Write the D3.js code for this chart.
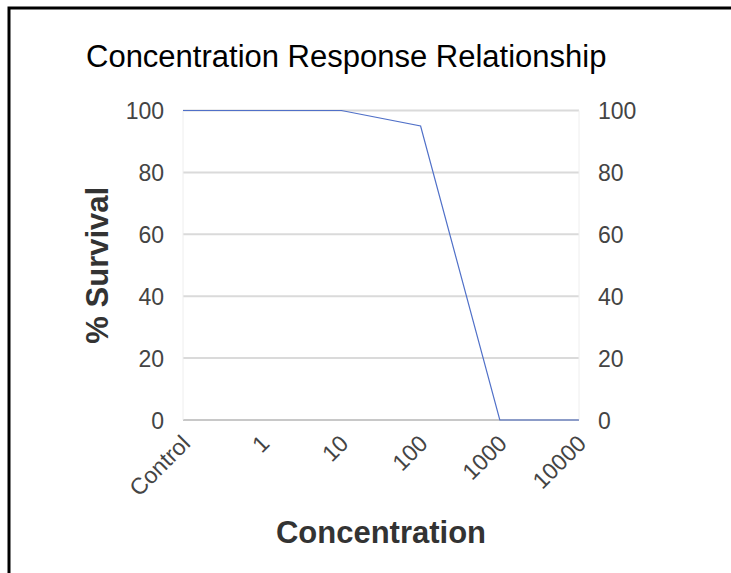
<!DOCTYPE html>
<html>
<head>
<meta charset="utf-8">
<script src="https://cdn.jsdelivr.net/npm/d3@7"></script>
<style>
  body { margin: 0; background: #fff; }
  svg { display: block; font-family: "Liberation Sans", Arial, sans-serif; }
  .axis path, .axis line { display: none; }
  .axis text { fill: #444; font-size: 23px; }
</style>
</head>
<body>
<svg id="chart" width="731" height="573"></svg>
<script>
const categories = ["Control", "1", "10", "100", "1000", "10000"];
const survival = [100, 100, 100, 95, 0, 0];
const yTicks = [0, 20, 40, 60, 80, 100];

const margin = {top: 110.5, right: 152, bottom: 153, left: 183};
const width = 731 - margin.left - margin.right;
const height = 573 - margin.top - margin.bottom;

const svg = d3.select("#chart");

// outer frame (cut off at right and bottom)
svg.append("path")
    .attr("d", "M9,573V8H731")
    .attr("fill", "none")
    .attr("stroke", "#000")
    .attr("stroke-width", 3);

svg.append("text")
    .attr("x", 86)
    .attr("y", 67)
    .attr("font-size", 31)
    .attr("fill", "#000")
    .text("Concentration Response Relationship");

const x = d3.scalePoint()
    .domain(categories)
    .range([0, width]);

const y = d3.scaleLinear()
    .domain([0, 100])
    .range([height, 0]);

const chart = svg.append("g")
    .attr("transform", `translate(${ margin.left },${ margin.top })`);

// gridlines
chart.append("g")
  .selectAll("line")
  .data(yTicks)
  .enter().append("line")
    .attr("x1", 0)
    .attr("x2", width)
    .attr("y1", (d) => y(d))
    .attr("y2", (d) => y(d))
    .attr("stroke", (d) => d === 0 ? "#c8c8c8" : "#dadada")
    .attr("stroke-width", 2);

chart.append("g")
  .selectAll("line")
  .data([0, width])
  .enter().append("line")
    .attr("x1", (d) => d)
    .attr("x2", (d) => d)
    .attr("y1", 0)
    .attr("y2", height)
    .attr("stroke", "#eeeeee")
    .attr("stroke-width", 1);

chart.append("g")
    .attr("class", "axis")
    .call(d3.axisLeft(y).tickValues(yTicks).tickSize(0).tickPadding(19))
    .selectAll("text").attr("dy", "0.35em");

chart.append("g")
    .attr("class", "axis")
    .attr("transform", `translate(${ width },0)`)
    .call(d3.axisRight(y).tickValues(yTicks).tickSize(0).tickPadding(19))
    .selectAll("text").attr("dy", "0.35em");

chart.append("g")
    .attr("class", "axis")
    .attr("transform", `translate(0,${ height })`)
    .call(d3.axisBottom(x).tickSize(0))
    .selectAll("text")
      .attr("text-anchor", "end")
      .attr("dy", null)
      .attr("y", 0)
      .attr("font-size", 24)
      .attr("transform", "translate(8,25) rotate(-45)");

const line = d3.line()
    .x((d, i) => x(categories[i]))
    .y((d) => y(d));

chart.append("path")
    .datum(survival)
    .attr("fill", "none")
    .attr("stroke", "#5070c8")
    .attr("stroke-width", 1.2)
    .attr("d", line);

// axis titles
svg.append("text")
    .attr("transform", `translate(108,${ margin.top + height / 2 }) rotate(-90)`)
    .attr("text-anchor", "middle")
    .attr("font-size", 31)
    .attr("font-weight", "bold")
    .attr("fill", "#333")
    .text("% Survival");

svg.append("text")
    .attr("x", margin.left + width / 2)
    .attr("y", 543)
    .attr("text-anchor", "middle")
    .attr("font-size", 31)
    .attr("font-weight", "bold")
    .attr("fill", "#333")
    .text("Concentration");
</script>
</body>
</html>
